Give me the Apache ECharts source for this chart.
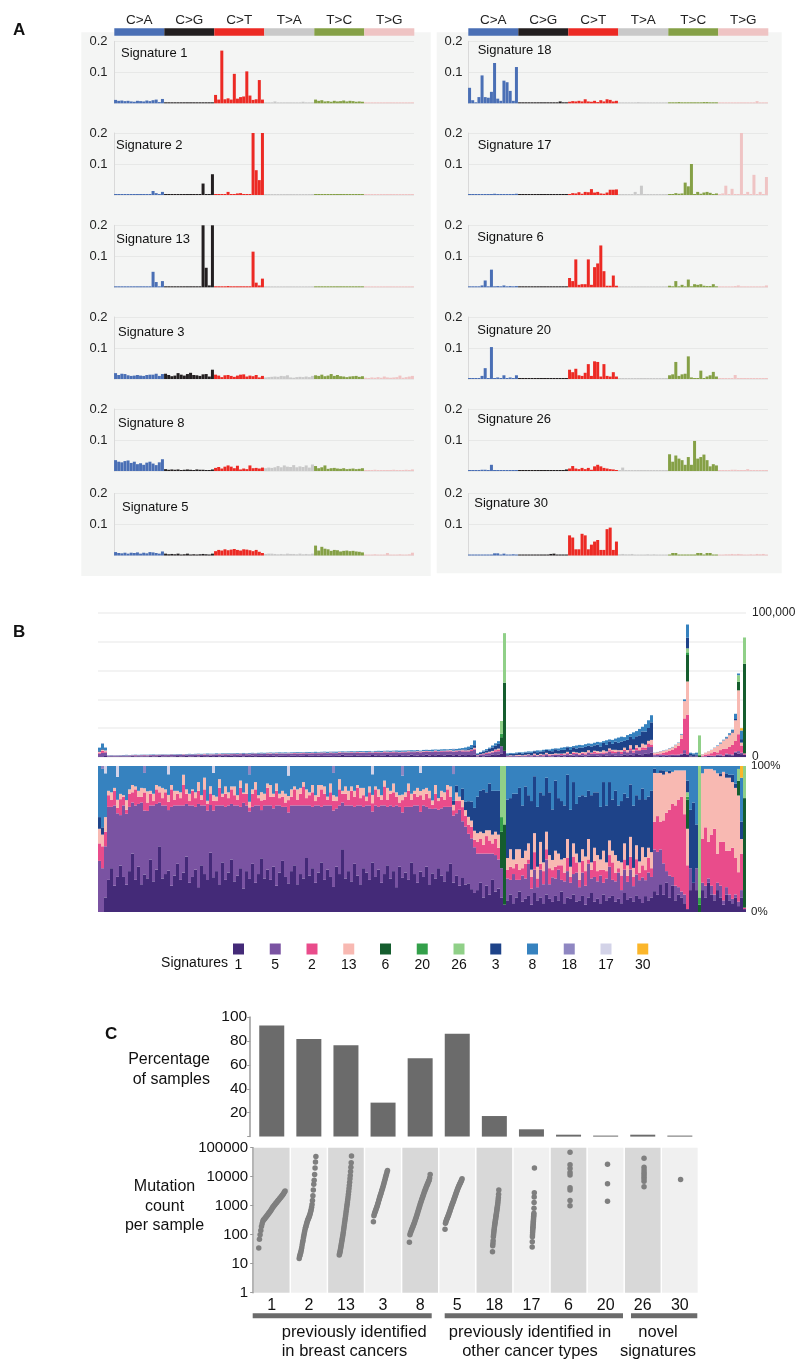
<!DOCTYPE html>
<html><head><meta charset="utf-8">
<script src="https://cdn.jsdelivr.net/npm/echarts@6/dist/echarts.min.js"></script>
<style>html,body{margin:0;padding:0;background:#fff}#chart{width:800px;height:1369px}</style>
</head><body><div id="chart"></div>
<script>
// ================= PANEL A: mutational signature profiles (96 contexts) =================
const mutationClasses = ['C>A','C>G','C>T','T>A','T>C','T>G'];
const flankBases = ['A','C','G','T'];
const sig1Profile = [
0.011,0.008,0.009,0.007,0.008,0.006,0.005,0.008,0.007,0.006,0.009,0.007,0.010,0.012,0.004,0.014,
0.002,0.001,0.001,0.002,0.002,0.001,0.001,0.002,0.002,0.001,0.001,0.002,0.002,0.002,0.001,0.003,
0.027,0.012,0.170,0.013,0.016,0.012,0.095,0.015,0.020,0.022,0.103,0.025,0.011,0.013,0.075,0.012,
0.002,0.001,0.002,0.006,0.001,0.001,0.001,0.002,0.001,0.001,0.001,0.001,0.005,0.001,0.001,0.002,
0.012,0.008,0.010,0.006,0.007,0.005,0.008,0.006,0.007,0.009,0.006,0.008,0.007,0.005,0.006,0.005,
0.001,0.001,0.001,0.001,0.001,0.001,0.001,0.001,0.001,0.001,0.001,0.001,0.001,0.001,0.001,0.003];
const sig2Profile = [
0.001,0.001,0.001,0.001,0.001,0.001,0.001,0.001,0.001,0.001,0.001,0.001,0.013,0.006,0.002,0.010,
0.001,0.001,0.001,0.001,0.001,0.001,0.001,0.001,0.001,0.001,0.001,0.001,0.037,0.002,0.001,0.067,
0.003,0.001,0.002,0.001,0.010,0.002,0.001,0.005,0.006,0.003,0.002,0.001,0.200,0.080,0.048,0.200,
0.001,0.001,0.001,0.001,0.001,0.001,0.001,0.001,0.001,0.001,0.001,0.001,0.001,0.001,0.001,0.001,
0.001,0.001,0.001,0.001,0.001,0.001,0.001,0.001,0.001,0.001,0.001,0.001,0.001,0.001,0.001,0.001,
0.001,0.001,0.001,0.001,0.001,0.001,0.001,0.001,0.001,0.001,0.001,0.001,0.001,0.001,0.001,0.001];
const sig13Profile = [
0.001,0.001,0.001,0.001,0.001,0.001,0.002,0.001,0.001,0.001,0.001,0.001,0.050,0.017,0.003,0.020,
0.003,0.001,0.001,0.002,0.003,0.001,0.001,0.003,0.002,0.001,0.001,0.002,0.200,0.063,0.006,0.200,
0.002,0.001,0.001,0.001,0.004,0.001,0.001,0.002,0.003,0.003,0.002,0.001,0.115,0.015,0.006,0.028,
0.001,0.001,0.001,0.001,0.001,0.001,0.001,0.001,0.001,0.001,0.001,0.001,0.001,0.001,0.001,0.001,
0.001,0.001,0.001,0.001,0.001,0.001,0.001,0.001,0.001,0.001,0.001,0.001,0.001,0.001,0.001,0.001,
0.001,0.001,0.001,0.001,0.001,0.001,0.001,0.001,0.001,0.001,0.001,0.001,0.001,0.001,0.001,0.001];
const sig3Profile = [
0.019,0.013,0.017,0.016,0.012,0.010,0.011,0.013,0.011,0.010,0.013,0.014,0.014,0.017,0.010,0.016,
0.017,0.013,0.009,0.011,0.019,0.014,0.011,0.016,0.020,0.013,0.012,0.010,0.015,0.016,0.008,0.030,
0.014,0.011,0.006,0.012,0.013,0.010,0.007,0.011,0.014,0.015,0.008,0.011,0.009,0.013,0.005,0.010,
0.005,0.006,0.007,0.008,0.007,0.010,0.009,0.012,0.005,0.004,0.006,0.007,0.006,0.008,0.006,0.010,
0.012,0.010,0.014,0.009,0.011,0.016,0.010,0.013,0.009,0.008,0.006,0.008,0.009,0.010,0.007,0.009,
0.004,0.003,0.005,0.004,0.006,0.004,0.008,0.005,0.004,0.005,0.006,0.011,0.004,0.006,0.008,0.010];
const sig8Profile = [
0.035,0.030,0.028,0.032,0.034,0.026,0.030,0.022,0.025,0.020,0.027,0.030,0.024,0.019,0.028,0.038,
0.006,0.004,0.005,0.004,0.005,0.003,0.004,0.005,0.004,0.003,0.005,0.004,0.004,0.003,0.003,0.005,
0.010,0.013,0.008,0.014,0.018,0.014,0.009,0.017,0.005,0.008,0.006,0.018,0.009,0.010,0.008,0.011,
0.009,0.011,0.010,0.012,0.016,0.012,0.018,0.014,0.013,0.019,0.012,0.015,0.013,0.018,0.011,0.021,
0.016,0.009,0.012,0.018,0.007,0.009,0.010,0.008,0.007,0.009,0.006,0.007,0.008,0.006,0.007,0.009,
0.003,0.002,0.003,0.004,0.003,0.002,0.003,0.003,0.003,0.004,0.003,0.003,0.003,0.004,0.002,0.005];
const sig5Profile = [
0.011,0.008,0.007,0.009,0.006,0.009,0.008,0.010,0.006,0.009,0.007,0.011,0.010,0.008,0.006,0.013,
0.006,0.004,0.005,0.004,0.006,0.003,0.004,0.006,0.003,0.004,0.003,0.004,0.005,0.004,0.003,0.006,
0.014,0.018,0.016,0.020,0.017,0.019,0.021,0.018,0.016,0.020,0.019,0.017,0.014,0.018,0.012,0.008,
0.005,0.006,0.006,0.005,0.004,0.005,0.004,0.006,0.005,0.005,0.004,0.006,0.004,0.005,0.004,0.006,
0.032,0.016,0.028,0.022,0.020,0.015,0.018,0.017,0.013,0.015,0.016,0.014,0.015,0.013,0.012,0.010,
0.003,0.002,0.003,0.004,0.003,0.002,0.003,0.008,0.003,0.002,0.003,0.004,0.003,0.002,0.004,0.009];
const sig18Profile = [
0.050,0.010,0.002,0.020,0.090,0.020,0.018,0.037,0.130,0.015,0.008,0.073,0.068,0.040,0.008,0.117,
0.002,0.002,0.002,0.003,0.003,0.002,0.002,0.002,0.003,0.002,0.002,0.002,0.002,0.006,0.002,0.002,
0.005,0.007,0.006,0.008,0.006,0.013,0.006,0.005,0.008,0.004,0.010,0.006,0.013,0.011,0.006,0.008,
0.002,0.002,0.002,0.002,0.002,0.002,0.004,0.002,0.002,0.002,0.002,0.003,0.002,0.002,0.002,0.002,
0.003,0.002,0.003,0.004,0.003,0.002,0.003,0.002,0.003,0.002,0.003,0.004,0.004,0.002,0.003,0.002,
0.002,0.002,0.002,0.002,0.002,0.002,0.002,0.002,0.002,0.002,0.002,0.002,0.007,0.002,0.002,0.003];
const sig17Profile = [
0.001,0.002,0.001,0.002,0.001,0.001,0.001,0.001,0.004,0.001,0.001,0.003,0.001,0.001,0.001,0.004,
0.001,0.001,0.001,0.001,0.001,0.001,0.001,0.001,0.001,0.001,0.001,0.001,0.001,0.001,0.001,0.001,
0.003,0.006,0.005,0.009,0.004,0.010,0.009,0.019,0.008,0.010,0.005,0.004,0.008,0.017,0.017,0.018,
0.001,0.001,0.002,0.001,0.001,0.010,0.001,0.030,0.001,0.002,0.001,0.001,0.001,0.002,0.001,0.001,
0.002,0.003,0.006,0.004,0.005,0.040,0.028,0.100,0.002,0.010,0.004,0.008,0.010,0.007,0.003,0.005,
0.002,0.005,0.030,0.003,0.020,0.002,0.003,0.200,0.002,0.010,0.003,0.065,0.002,0.010,0.003,0.058];
const sig6Profile = [
0.002,0.001,0.002,0.001,0.006,0.022,0.001,0.057,0.001,0.004,0.001,0.006,0.001,0.004,0.001,0.004,
0.001,0.001,0.001,0.001,0.001,0.001,0.002,0.001,0.001,0.001,0.002,0.001,0.002,0.001,0.001,0.001,
0.030,0.020,0.090,0.008,0.010,0.010,0.090,0.008,0.065,0.077,0.135,0.052,0.005,0.005,0.038,0.005,
0.002,0.003,0.002,0.001,0.001,0.002,0.001,0.001,0.001,0.002,0.001,0.001,0.001,0.001,0.002,0.001,
0.005,0.003,0.020,0.003,0.008,0.003,0.025,0.003,0.010,0.008,0.010,0.005,0.004,0.004,0.010,0.003,
0.001,0.002,0.001,0.002,0.001,0.004,0.006,0.001,0.002,0.001,0.002,0.001,0.001,0.002,0.001,0.006];
const sig20Profile = [
0.002,0.003,0.001,0.002,0.010,0.035,0.001,0.103,0.001,0.005,0.001,0.012,0.001,0.005,0.001,0.012,
0.001,0.002,0.001,0.001,0.001,0.001,0.001,0.001,0.001,0.002,0.001,0.001,0.002,0.001,0.001,0.001,
0.030,0.022,0.033,0.012,0.010,0.020,0.048,0.010,0.057,0.055,0.008,0.048,0.010,0.008,0.022,0.008,
0.001,0.002,0.001,0.001,0.002,0.001,0.001,0.001,0.001,0.001,0.002,0.001,0.001,0.001,0.001,0.001,
0.012,0.015,0.055,0.010,0.015,0.017,0.073,0.005,0.003,0.002,0.027,0.003,0.008,0.012,0.023,0.008,
0.001,0.001,0.002,0.001,0.001,0.013,0.002,0.001,0.002,0.002,0.001,0.001,0.001,0.001,0.001,0.001];
const sig26Profile = [
0.002,0.001,0.002,0.001,0.004,0.004,0.001,0.020,0.001,0.002,0.001,0.002,0.001,0.002,0.001,0.002,
0.001,0.001,0.001,0.002,0.001,0.001,0.001,0.002,0.001,0.001,0.001,0.002,0.001,0.001,0.002,0.005,
0.008,0.016,0.008,0.006,0.010,0.006,0.010,0.004,0.015,0.020,0.015,0.010,0.008,0.006,0.005,0.003,
0.002,0.011,0.002,0.001,0.002,0.002,0.001,0.002,0.001,0.002,0.001,0.003,0.001,0.002,0.001,0.002,
0.054,0.030,0.050,0.040,0.035,0.020,0.045,0.020,0.097,0.040,0.045,0.053,0.035,0.015,0.022,0.018,
0.001,0.002,0.003,0.001,0.004,0.004,0.001,0.002,0.001,0.006,0.001,0.002,0.001,0.001,0.001,0.002];
const sig30Profile = [
0.001,0.001,0.002,0.001,0.001,0.001,0.001,0.002,0.007,0.007,0.002,0.006,0.001,0.002,0.004,0.001,
0.001,0.001,0.001,0.001,0.001,0.001,0.003,0.001,0.001,0.001,0.005,0.006,0.002,0.001,0.001,0.001,
0.065,0.058,0.020,0.020,0.070,0.065,0.020,0.035,0.045,0.050,0.018,0.018,0.085,0.090,0.018,0.045,
0.004,0.005,0.004,0.004,0.005,0.003,0.002,0.002,0.003,0.004,0.003,0.004,0.002,0.001,0.003,0.001,
0.001,0.008,0.008,0.001,0.001,0.001,0.001,0.001,0.001,0.008,0.008,0.001,0.008,0.008,0.001,0.001,
0.003,0.003,0.004,0.004,0.005,0.004,0.005,0.004,0.003,0.003,0.004,0.003,0.005,0.004,0.005,0.003];
const leftSignatures = ['1','2','13','3','8','5'];
const rightSignatures = ['18','17','6','20','26','30'];

// ================= PANEL B: per-sample signature contributions (560 samples shown as 216 columns) ===
// relative weights per sample (normalised per column), and total mutations per sample (thousands)
const bSig1 = [0,0,10,
22,30,18,26,35,24,20,28,40,22, 31,19,27,24,36,21,29,45,23,26, 30,18,25,33,22,27,38,20,24,29, 17,32,26,23,41,25,28,19,34,22,
27,36,21,25,30,16,28,24,33,20, 26,39,23,29,22,31,18,27,35,24, 21,28,32,19,26,23,37,25,30,20, 27,34,22,29,24,18,31,26,43,23,
28,21,33,25,19,30,27,22,36,24, 29,20,26,32,23,28,17,31,25,27, 22,34,26,20,29,24,31,19,27,23, 30,25,21,28,33,22,26,18,24,20, 22,18,15,
15,20,10,18,12,22,14,16,
10,5,
8,12,6,10,14,7,9,11,5,13, 8,10,6,12,9,7,11,8,14,6, 10,9,12,7,8,11,5,10,13,7, 9,6,12,8,10,11,7,9,6,13, 8,10,7,12,9,6,11,8,10,
15,12,20,12,20,10,18,8,12,10,6,2,
15,20,15,0,
15,10,20,12,8,15,10,5,12,8,6,10,4,10,2];
const bSig5 = [35,30,35,
50,42,55,47,38,49,52,44,35,51, 43,56,46,48,37,52,45,30,50,47, 44,54,48,40,51,46,36,53,49,43, 57,41,47,50,33,48,45,54,39,50,
46,38,52,48,42,58,45,49,39,53, 47,35,50,44,51,40,55,46,37,48, 52,45,41,54,47,50,36,48,42,53, 46,38,51,44,49,55,40,47,32,50,
45,52,39,48,54,42,46,51,37,49, 43,53,47,40,50,44,56,41,48,45, 50,38,47,53,43,49,41,52,45,48, 40,46,51,44,39,50,45,52,40,42, 38,40,36,
25,20,30,22,28,18,25,20,
20,0,
15,10,20,12,8,18,14,22,11,16, 9,19,13,24,10,17,12,21,8,15, 18,11,14,20,9,16,13,23,10,17, 12,19,8,15,21,11,14,18,9,16, 12,20,10,15,13,17,11,19,14,
30,30,25,22,8,15,6,10,5,4,6,0,
15,0,15,0,
5,8,3,6,4,5,8,3,5,4,3,2,3,5,0];
const bSig2 = [12,15,10,
8,5,10,4,12,6,3,9,7,11, 5,4,13,6,8,3,10,7,5,9, 6,12,4,8,5,14,7,3,10,6, 9,4,11,5,8,7,3,12,6,9,
5,10,7,4,13,6,8,3,9,11, 5,7,4,12,6,8,10,5,7,3, 9,6,11,4,8,13,5,7,10,3, 6,12,8,4,9,7,5,11,6,8,
4,10,7,12,5,8,3,9,6,11, 7,4,13,5,8,10,6,3,9,7, 11,5,8,6,12,4,9,7,3,10, 6,8,5,12,7,4,9,6,10,8, 7,9,6,
8,10,6,12,9,7,11,8,
0,0,
6,9,4,11,7,5,10,3,8,12, 6,4,9,7,11,5,8,3,10,6, 9,4,12,7,5,8,10,3,6,11, 7,4,9,5,8,12,6,3,10,7, 4,9,6,11,5,8,7,10,6,
20,25,20,30,40,45,50,55,60,65,55,30,
0,0,0,0,
30,40,25,35,45,20,30,40,25,30,35,25,20,25,1];
const bSig13 = [10,8,10,
3,5,2,6,4,1,7,3,5,2, 4,6,3,8,2,5,3,4,7,2, 5,3,6,2,4,7,3,5,1,4, 6,3,8,2,5,4,3,6,2,5,
4,2,6,3,5,1,7,4,3,5, 2,6,4,3,8,2,5,3,4,6, 3,5,2,7,4,3,6,2,5,4, 8,3,5,2,6,4,3,7,2,5,
6,3,4,2,7,5,3,4,6,2, 5,3,4,8,2,6,3,5,4,3, 5,4,2,6,3,7,4,5,3,6, 2,4,5,3,7,4,6,3,5,4, 6,5,7,
6,5,8,4,7,6,5,9,
0,0,
8,12,6,10,14,7,9,11,5,13, 8,15,6,12,9,7,11,8,4,10, 13,7,9,6,12,8,10,14,5,9, 11,7,13,6,10,8,12,5,9,11, 7,14,6,10,8,12,9,7,11,
35,30,35,32,28,25,22,24,20,18,30,25,
0,0,0,0,
45,40,50,45,40,55,45,48,50,50,45,48,52,10,0];
const bSig3 = [8,5,0,
0,0,0,0,0,0,0,0,0,0, 0,0,0,0,0,0,0,0,0,0, 0,0,0,0,0,0,0,0,0,0, 0,0,0,0,0,0,0,0,0,0,
0,0,0,0,0,0,0,0,0,0, 0,0,0,0,0,0,0,0,0,0, 0,0,0,0,0,0,0,0,0,0, 0,0,0,0,0,0,0,0,0,0,
0,0,0,0,0,0,0,0,0,0, 0,0,0,0,0,0,0,0,0,0, 0,0,0,0,0,0,0,0,0,0, 0,0,0,0,0,3,5,0,8,6, 12,15,18,
25,28,30,26,32,30,28,30,
0,0,
40,35,45,38,42,36,44,33,47,39, 41,34,46,37,43,35,48,38,40,36, 44,39,42,34,45,37,41,33,46,38, 43,36,47,39,40,35,44,38,42,34, 45,37,41,36,43,39,40,35,42,
3,0,2,3,0,2,0,0,0,0,0,8,
40,55,30,0,
0,0,0,0,0,0,2,0,3,2,5,3,0,12,0];
const bSig8 = [35,40,30,
17,18,15,17,21,20,25,16,13,14, 17,15,11,18,17,19,13,14,15,16, 15,13,17,17,18,6,16,19,16,18, 11,20,8,25,14,16,21,9,19,14,
18,14,14,20,10,18,12,20,16,11, 20,19,19,12,13,19,12,19,17,19, 15,16,14,16,15,11,16,18,13,20, 13,13,14,21,12,16,21,9,17,14,
17,14,17,13,15,15,21,14,15,14, 16,20,10,15,17,12,18,20,14,18, 12,19,17,15,13,16,15,17,24,13, 22,17,18,13,14,20,14,21,16,26, 27,28,33,
21,17,16,18,12,17,17,17,
0,0,
23,22,19,19,15,27,14,20,24,7, 28,18,20,8,18,30,10,22,24,27, 6,30,11,26,21,20,21,17,20,18, 18,28,11,27,11,23,17,27,24,19, 21,13,26,21,23,15,23,21,17,
2,5,3,3,4,3,4,3,3,3,3,10,
30,25,40,0,
5,2,2,2,3,5,5,4,5,6,6,12,2,30,0];
// rarer signatures: [sample column, weight]
const bSig6Pairs  = [[134,25],[135,55],[196,20],[200,5],[213,10],[215,75]];
const bSig20Pairs = [[134,10],[196,2],[200,5]];
const bSig26Pairs = [[134,35],[135,40],[196,3],[200,90],[213,8],[215,22]];
const bSig18Pairs = [[1,2],[15,5],[50,6],[78,5],[101,7],[118,6]];
const bSig17Pairs = [[2,5],[6,8],[23,6],[38,5],[63,7],[91,6],[107,5]];
const bSig30Pairs = [[214,8]];
const bTotalK = [6.5,9.5,7,
1.2,1.3,1.2,1.4,1.3,1.4,1.5,1.4,1.5,1.6, 1.5,1.6,1.7,1.6,1.7,1.8,1.7,1.8,1.9,1.8, 1.9,2.0,1.9,2.0,2.1,2.0,2.1,2.2,2.1,2.2, 2.3,2.2,2.3,2.4,2.3,2.4,2.5,2.4,2.5,2.6,
2.5,2.6,2.7,2.6,2.7,2.8,2.7,2.8,2.9,2.8, 2.9,3.0,2.9,3.0,3.1,3.0,3.1,3.2,3.1,3.2, 3.3,3.2,3.3,3.4,3.3,3.4,3.5,3.4,3.5,3.6, 3.5,3.6,3.7,3.6,3.7,3.8,3.7,3.8,3.9,3.8,
3.9,4.0,3.9,4.0,4.1,4.0,4.1,4.2,4.1,4.2, 4.3,4.2,4.3,4.4,4.3,4.4,4.5,4.4,4.6,4.5, 4.6,4.7,4.6,4.8,4.7,4.9,5.0,4.9,5.1,5.2, 5.1,5.3,5.4,5.3,5.5,5.7,5.6,5.9,6.2,6.6, 7.2,8.3,11.5,
2.5,3.5,4.5,5.5,6.5,8,9.5,11,
25,86,
2.5,2.8,2.7,3.1,3.3,3.2,3.6,3.9,3.8,4.3, 4.6,4.5,5.0,5.3,5.2,5.7,6.0,5.9,6.5,6.8, 7.2,7.0,7.6,8.0,8.4,8.2,8.9,9.4,9.2,9.9, 10.5,10.2,11.0,11.6,12.2,11.9,12.8,13.5,14.1,13.8, 15.2,16.0,17.1,18.0,19.5,21.0,22.8,25.5,29.0,
3,3.5,4,4.5,5,6,7,8.5,10,16,40,92,
3,2.5,3,15,
2,3,4,5,6.5,8,10,12,14,16.5,19,30,58,20,83];
const stackOrder = ['1','5','2','13','6','20','26','3','8','18','17','30'];
const sigColors = {'1':'#442a78','5':'#7a53a2','2':'#e94c8b','13':'#f8b9b2','6':'#155d2e','20':'#33a04a',
  '26':'#90d088','3':'#1e4389','8':'#3682bf','18':'#8f87c2','17':'#d3d3e8','30':'#fbb62b'};
const bTickLabels = {top:'100,000', bottom:'0', pctTop:'100%', pctBottom:'0%'};

// ================= PANEL C =================
const cSignatures = ['1','2','13','3','8','5','18','17','6','20','26','30'];
const cPercentSamples = [92.8,81.7,76.4,28.4,65.5,85.9,17.2,6.1,1.6,0.5,1.6,0.2];
const cCounts1  = [35,70,100,140,190,240,290,320,340,360,390,420,450,480,520,560,600,650,700,760,830,900,960,1030,1100,1180,1260,1350,1450,1550,1650,1760,1880,2000,2150,2300,2500,2700,2950,3200];
const cCounts2  = [15,18,20,23,26,30,36,45,55,65,80,95,115,135,160,180,200,230,260,290,320,350,380,410,450,500,560,640,740,880,1100,1500,2200,3500,5500,7500,12000,20000,32000,50000];
const cCounts13 = [20,22,25,28,32,37,43,50,58,67,78,90,105,125,150,180,215,260,310,370,440,530,640,770,930,1120,1350,1650,2000,2500,3100,3900,5000,6500,8500,11000,15000,21000,30000,52000];
const cCounts3  = [280,450,520,580,650,720,800,900,1000,1150,1300,1500,1700,1950,2200,2500,2800,3200,3600,4100,4700,5400,6200,7100,8200,9500,11000,12500,14500,16500];
const cCounts8  = [55,100,115,130,145,160,180,200,225,250,280,320,360,410,470,540,620,710,820,940,1080,1230,1400,1600,1800,2050,2300,2600,2950,3300,3700,4100,4600,5100,5600,6200,6900,7600,9000,12000];
const cCounts5  = [155,250,280,310,340,370,400,440,480,530,590,650,720,800,880,970,1070,1180,1300,1430,1580,1740,1920,2120,2340,2580,2850,3150,3450,3800,4150,4500,4900,5300,5700,6100,6600,7100,7700,8500];
const cCounts18 = [26,42,50,62,85,100,120,140,160,185,210,240,270,300,340,380,430,480,540,610,690,780,880,1000,1150,1350,1600,1900,2500,3500];
const cCounts17 = [38,57,85,100,120,140,160,180,200,230,260,290,330,380,430,480,550,810,1300,2000,2800,20000];
const cCounts6  = [1000,1500,3500,4200,11500,14000,19000,26000,70000];
const cCounts20 = [1420,5700,27000];
const cCounts26 = [4500,7000,8500,10000,12000,14000,17000,21000,43000];
const cCounts30 = [8000];
const cLogTicks = [1,10,100,1000,10000,100000];
const cGroups = [
  {lines:['previously identified','in breast cancers']},
  {lines:['previously identified in','other cancer types']},
  {lines:['novel','signatures']}];

// ================= layout / style =================
const FONT = '"Liberation Sans", Arial, Helvetica, sans-serif';
const classColors = ['#4a6fb5','#231f20','#ec2a24','#c9c9c9','#85a046','#efc4c4'];
const aRowBaselines = [103.3,195,287.3,379,471,555.5];
const aPlotH = 62, aPlotW = 300, aLeftX = [114, 468];
const aLabelPos = [
  [[121,53.3],[116,145],[116.3,239],[118,332],[118,423],[122,507]],
  [[477.7,50],[477.7,145],[477.3,237.3],[477.3,330],[477.3,419],[474.3,503]]];
const cSpread = [[-0.35,0.36],[-0.26,0.19],[-0.18,0.15],[-0.26,0.12],[-0.29,0.27],[-0.33,0.13],
  [-0.05,0.12],[0.02,0.08],[0.04,0.04],[0.05,0.05],[0.035,0.035],[0.02,0.02]];

const profiles = {'1':sig1Profile,'2':sig2Profile,'13':sig13Profile,'3':sig3Profile,'8':sig8Profile,'5':sig5Profile,
  '18':sig18Profile,'17':sig17Profile,'6':sig6Profile,'20':sig20Profile,'26':sig26Profile,'30':sig30Profile};
const contextLabels = [];
mutationClasses.forEach(mc => flankBases.forEach(a => flankBases.forEach(b => contextLabels.push(a + '[' + mc + ']' + b))));

const grids = [], xAxes = [], yAxes = [], series = [], graphic = [];
function txt(x, y, text, size, opts) {
  opts = opts || {};
  return {type:'text', x:x, y:y, silent:true, z:opts.z||10, style:{text:text, fill:opts.fill||'#111',
    fontSize:size, fontFamily:FONT, fontWeight:opts.weight||'normal',
    align:opts.align||'left', verticalAlign:'middle', textAlign:opts.align||'left', textVerticalAlign:'middle'}};
}
function rect(x, y, w, h, fill, z) {
  return {type:'rect', silent:true, z:(z===undefined?5:z), shape:{x:x, y:y, width:w, height:h}, style:{fill:fill}};
}

// ---- Panel A
graphic.push(rect(81.3, 32.3, 349.4, 543.7, '#f4f5f4', -100));
graphic.push(rect(436.7, 32.3, 345, 541, '#f4f5f4', -100));
[leftSignatures, rightSignatures].forEach((sigs, side) => {
  const hx = side === 0 ? 114.3 : 468.3;
  mutationClasses.forEach((mc, k) => {
    graphic.push(rect(hx + 50 * k, 28.3, 50, 7.5, classColors[k], 5));
    graphic.push(txt(hx + 50 * k + 25, 20, mc, 13.5, {align:'center', fill:'#222'}));
  });
  sigs.forEach((sig, row) => {
    const gi = grids.length;
    grids.push({left:aLeftX[side], top:aRowBaselines[row] - aPlotH, width:aPlotW, height:aPlotH, outerBoundsMode:'none'});
    xAxes.push({type:'category', gridIndex:gi, data:contextLabels, show:false});
    yAxes.push({type:'value', gridIndex:gi, min:0, max:0.2, interval:0.1,
      axisLine:{show:true, onZero:false, lineStyle:{color:'#d9d9d9', width:1}}, axisTick:{show:false},
      splitLine:{show:true, lineStyle:{color:'#e7e8e7', width:1}},
      axisLabel:{show:true, margin:side === 0 ? 6.5 : 5.5, fontSize:13, color:'#222', fontFamily:FONT,
        showMinLabel:false, showMaxLabel:true, formatter:v => v === 0 ? '' : v.toFixed(1)}});
    series.push({type:'bar', xAxisIndex:gi, yAxisIndex:gi, data:profiles[sig], barCategoryGap:'4%',
      barMinHeight:1, silent:true, clip:true,
      itemStyle:{color:p => classColors[Math.floor(p.dataIndex / 16)]}});
    const lp = aLabelPos[side][row];
    graphic.push(txt(lp[0], lp[1], 'Signature ' + sig, 13, {fill:'#111'}));
  });
});

// ---- Panel B
const N = bTotalK.length;
function fromPairs(pairs) { const a = new Array(N).fill(0); pairs.forEach(p => { a[p[0]] = p[1]; }); return a; }
const bWeights = {'1':bSig1,'5':bSig5,'2':bSig2,'13':bSig13,'6':fromPairs(bSig6Pairs),'20':fromPairs(bSig20Pairs),
  '26':fromPairs(bSig26Pairs),'3':bSig3,'8':bSig8,'18':fromPairs(bSig18Pairs),'17':fromPairs(bSig17Pairs),'30':fromPairs(bSig30Pairs)};
const sampleIds = bTotalK.map((_, i) => 'S' + (i + 1));
const colSums = sampleIds.map((_, i) => stackOrder.reduce((s, k) => s + (bWeights[k][i] || 0), 0));
const gTop = grids.length;
grids.push({left:98, top:613, width:648, height:144, outerBoundsMode:'none'});
grids.push({left:98, top:766, width:648, height:146, outerBoundsMode:'none'});
xAxes.push({type:'category', gridIndex:gTop, data:sampleIds, show:false});
xAxes.push({type:'category', gridIndex:gTop + 1, data:sampleIds, show:false});
yAxes.push({type:'value', gridIndex:gTop, position:'right', min:0, max:100000, interval:20000,
  axisLine:{show:false, onZero:false}, axisTick:{show:false}, splitLine:{show:true, lineStyle:{color:'#efefef', width:1.5}},
  axisLabel:{margin:6, fontSize:12, color:'#222', fontFamily:FONT,
    formatter:v => v === 100000 ? bTickLabels.top : (v === 0 ? bTickLabels.bottom : '')}});
yAxes.push({type:'value', gridIndex:gTop + 1, position:'right', min:0, max:100, interval:100,
  axisLine:{show:false, onZero:false}, axisTick:{show:false}, splitLine:{show:false},
  axisLabel:{margin:5, fontSize:11.5, color:'#222', fontFamily:FONT,
    formatter:v => v === 100 ? bTickLabels.pctTop : bTickLabels.pctBottom}});
stackOrder.forEach(k => {
  const w = bWeights[k];
  series.push({type:'bar', name:'Signature ' + k, xAxisIndex:gTop, yAxisIndex:gTop, stack:'counts',
    barCategoryGap:'0%', silent:true, itemStyle:{color:sigColors[k]},
    data:w.map((v, i) => bTotalK[i] * 1000 * v / colSums[i])});
  series.push({type:'bar', name:'Signature ' + k, xAxisIndex:gTop + 1, yAxisIndex:gTop + 1, stack:'pct',
    barCategoryGap:'0%', silent:true, itemStyle:{color:sigColors[k]},
    data:w.map((v, i) => 100 * v / colSums[i])});
});
// legend
graphic.push(txt(228, 963.5, 'Signatures', 14, {align:'right'}));
stackOrder.forEach((k, j) => {
  const cx = 238.5 + 36.75 * j;
  graphic.push(rect(cx - 5.5, 943.5, 11, 11, sigColors[k], 5));
  graphic.push(txt(cx, 965.5, k, 14, {align:'center'}));
});

// ---- Panel C
const gC = grids.length;
grids.push({left:253.2, top:1017, width:445.2, height:119.6, outerBoundsMode:'none'});
grids.push({left:253.2, top:1147.7, width:445.2, height:145, outerBoundsMode:'none'});
const xC0 = xAxes.length;
xAxes.push({type:'category', gridIndex:gC, data:cSignatures, show:false, axisLine:{onZero:false}});
xAxes.push({type:'category', gridIndex:gC + 1, data:cSignatures, axisLine:{show:false, onZero:false}, axisTick:{show:false},
  axisLabel:{margin:5, fontSize:16, color:'#111', fontFamily:FONT, interval:0}});
xAxes.push({type:'value', gridIndex:gC + 1, min:-0.5, max:11.5, show:false, axisLine:{show:false, onZero:false}});
const yC0 = yAxes.length;
yAxes.push({type:'value', gridIndex:gC, min:0, max:100, interval:20, offset:3,
  axisLine:{show:true, onZero:false, lineStyle:{color:'#9b9b9b', width:1.5}}, axisTick:{show:true, length:3, lineStyle:{color:'#9b9b9b'}},
  splitLine:{show:false}, axisLabel:{margin:3, fontSize:15.5, color:'#111', fontFamily:FONT,
    showMaxLabel:true, formatter:v => v === 0 ? '' : String(v)}});
yAxes.push({type:'log', gridIndex:gC + 1, min:cLogTicks[0], max:cLogTicks[cLogTicks.length - 1], logBase:10, splitNumber:5,
  axisLine:{show:true, onZero:false, lineStyle:{color:'#9b9b9b', width:1.5}}, axisTick:{show:true, length:3, lineStyle:{color:'#9b9b9b'}},
  splitLine:{show:false}, axisLabel:{margin:5, fontSize:15, color:'#111', fontFamily:FONT,
    showMaxLabel:true, showMinLabel:true, formatter:v => String(Math.round(v))}});
yAxes.push({type:'value', gridIndex:gC + 1, min:0, max:1, show:false, axisLine:{show:false, onZero:false}});
series.push({type:'bar', xAxisIndex:xC0, yAxisIndex:yC0, data:cPercentSamples, barWidth:25, barMinHeight:1,
  silent:true, itemStyle:{color:'#6b6b6b'}});
series.push({type:'bar', xAxisIndex:xC0 + 1, yAxisIndex:yC0 + 2, barCategoryGap:'4%', silent:true, z:1,
  data:cSignatures.map((s, k) => ({value:1, itemStyle:{color:k % 2 === 0 ? '#d8d8d8' : '#f0f0f0'}}))});
const cCountsBySig = [cCounts1,cCounts2,cCounts13,cCounts3,cCounts8,cCounts5,cCounts18,cCounts17,cCounts6,cCounts20,cCounts26,cCounts30];
const scatterData = [];
cCountsBySig.forEach((arr, k) => {
  const lo = cSpread[k][0], hi = cSpread[k][1], n = arr.length;
  arr.forEach((v, j) => scatterData.push([k + lo + (hi - lo) * (n > 1 ? j / (n - 1) : 0), v]));
});
series.push({type:'scatter', xAxisIndex:xC0 + 2, yAxisIndex:yC0 + 1, data:scatterData, symbolSize:5.5,
  silent:true, z:5, itemStyle:{color:'#7f7f7f', opacity:1}});
// side texts and group annotations
graphic.push(txt(210, 1060, 'Percentage', 16, {align:'right'}));
graphic.push(txt(210, 1080, 'of samples', 16, {align:'right'}));
graphic.push(txt(164.5, 1186.7, 'Mutation', 16, {align:'center'}));
graphic.push(txt(164.5, 1206.2, 'count', 16, {align:'center'}));
graphic.push(txt(164.5, 1226, 'per sample', 16, {align:'center'}));
const groupBars = [[252.7, 179], [444.7, 178.3], [631, 66.3]];
groupBars.forEach(g => graphic.push(rect(g[0], 1313.3, g[1], 5, '#6b6b6b', 5)));
graphic.push(txt(281.7, 1332, cGroups[0].lines[0], 16.5));
graphic.push(txt(281.7, 1351.5, cGroups[0].lines[1], 16.5));
graphic.push(txt(530, 1332, cGroups[1].lines[0], 16.5, {align:'center'}));
graphic.push(txt(530, 1351.5, cGroups[1].lines[1], 16.5, {align:'center'}));
graphic.push(txt(658, 1332, cGroups[2].lines[0], 16.5, {align:'center'}));
graphic.push(txt(658, 1351.5, cGroups[2].lines[1], 16.5, {align:'center'}));

// panel letters
graphic.push(txt(13, 30.7, 'A', 17, {weight:'bold'}));
graphic.push(txt(13, 632, 'B', 17, {weight:'bold'}));
graphic.push(txt(105, 1034, 'C', 17, {weight:'bold'}));

const chart = echarts.init(document.getElementById('chart'), null, {renderer:'canvas'});
chart.setOption({
  animation:false, backgroundColor:'#ffffff', textStyle:{fontFamily:FONT},
  tooltip:{show:false}, axisPointer:{show:false},
  grid:grids, xAxis:xAxes, yAxis:yAxes, series:series, graphic:graphic
});
</script>
</body></html>
